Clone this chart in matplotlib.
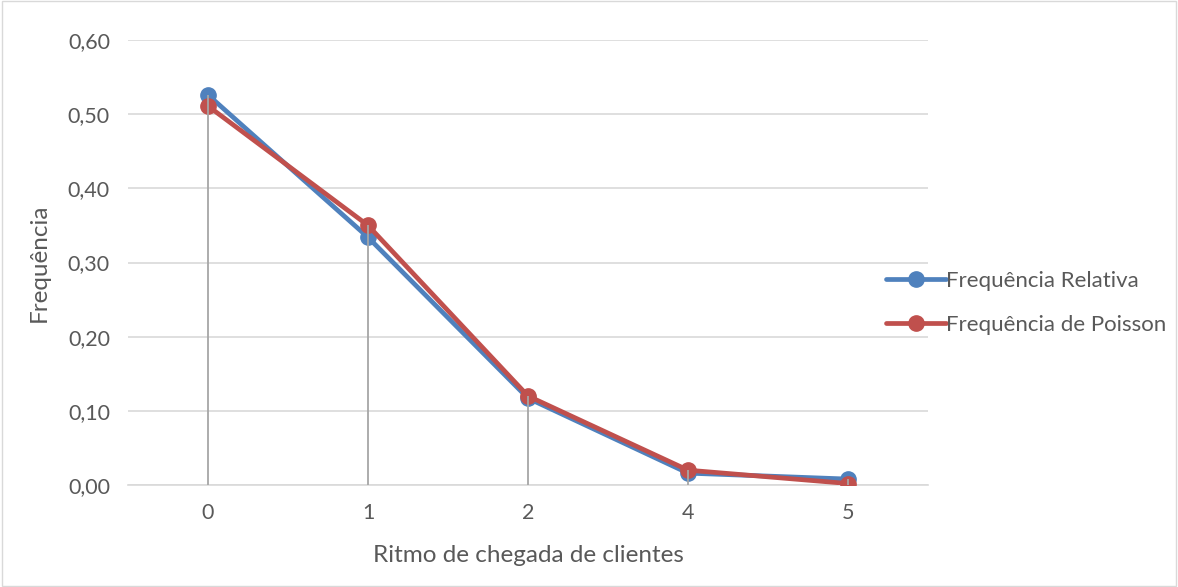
import numpy as np
import matplotlib.pyplot as plt
from matplotlib.patches import Rectangle

# Data
categorias = ['0', '1', '2', '4', '5']
freq_relativa = [0.526, 0.334, 0.117, 0.016, 0.008]
freq_poisson = [0.511, 0.350, 0.120, 0.020, 0.002]
y_ticks = [0.0, 0.1, 0.2, 0.3, 0.4, 0.5, 0.6]

AZUL = '#4F81BD'
VERMELHO = '#C0504D'
CINZA_TXT = '#595959'

plt.rcParams['font.family'] = ['Lato', 'DejaVu Sans']

fig = plt.figure(figsize=(11.78, 5.87), dpi=100)
ax = fig.add_axes([128 / 1178, 1 - 485 / 587, 800 / 1178, 445 / 587])

x = np.arange(len(categorias))
ax.plot(x, freq_relativa, color=AZUL, lw=3.4, marker='o', ms=11,
        solid_capstyle='round', label='Frequência Relativa', zorder=3)
ax.plot(x, freq_poisson, color=VERMELHO, lw=3.4, marker='o', ms=11,
        solid_capstyle='round', label='Frequência de Poisson', zorder=4)

# drop lines from the highest point to the axis
topo = np.maximum(freq_relativa, freq_poisson)
ax.vlines(x, 0, topo, color='#A6A6A6', lw=1.3, zorder=5)

ax.set_xlim(-0.5, len(categorias) - 0.5)
ax.set_ylim(0, 0.6)
ax.set_xticks(x)
ax.set_xticklabels(categorias)
ax.set_yticks(y_ticks)
ax.set_yticklabels([f'{v:.2f}'.replace('.', ',') for v in y_ticks])
ax.grid(axis='y', color='#D9D9D9', lw=1.2, zorder=0)
ax.tick_params(length=0, labelsize=15.5, colors=CINZA_TXT, pad=13)
for s in ['top', 'right', 'left']:
    ax.spines[s].set_visible(False)
ax.spines['bottom'].set_color('#D9D9D9')
ax.spines['bottom'].set_linewidth(1.2)

ax.set_xlabel('Ritmo de chegada de clientes', fontsize=17.5, color=CINZA_TXT, labelpad=16)
ax.set_ylabel('Frequência', fontsize=17.5, color=CINZA_TXT, labelpad=13)

ax.legend(loc='center left', bbox_to_anchor=(0.922, 0.409), frameon=False,
          fontsize=16, labelcolor=CINZA_TXT, handlelength=2.7,
          handletextpad=0.0, labelspacing=1.1)

# outer chart border
fig.patches.append(Rectangle((0.002, 0.002), 0.996, 0.996, transform=fig.transFigure,
                             fill=False, edgecolor='#D9D9D9', lw=1))

plt.savefig('out.png', dpi=100)
